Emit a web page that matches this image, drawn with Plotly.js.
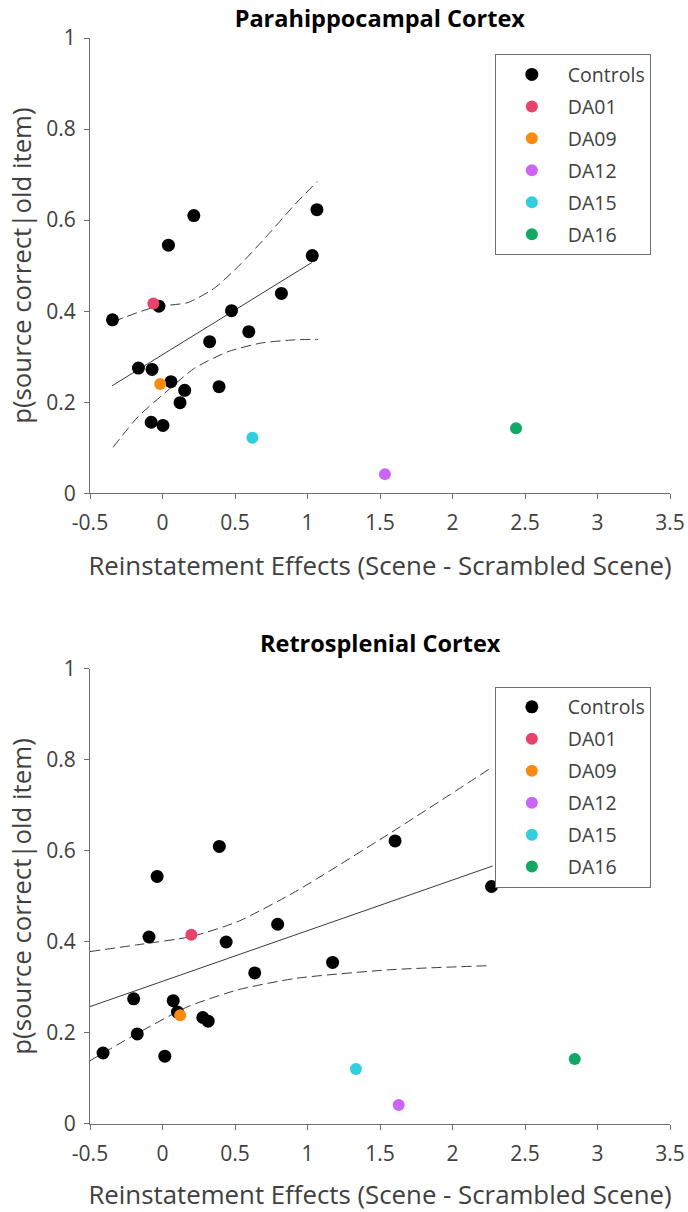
<!DOCTYPE html>
<html>
<head>
<meta charset="utf-8">
<script src="https://cdn.plot.ly/plotly-3.0.1.min.js"></script>
<style>html,body{margin:0;padding:0;background:#fff;}#chart{width:688px;height:1212px;}</style>
</head>
<body>
<div id="chart"></div>
<script>
// ---------- Data: Parahippocampal Cortex ----------
const phcControlsX = [-0.345, -0.025, 0.476, 0.325, 0.595, 0.820, 1.033, -0.166, -0.072, 0.058, 0.153, 0.121, 0.390, -0.078, 0.003, 0.041, 0.216, 1.065];
const phcControlsY = [0.381, 0.411, 0.401, 0.333, 0.355, 0.439, 0.522, 0.275, 0.272, 0.245, 0.226, 0.199, 0.234, 0.156, 0.149, 0.545, 0.610, 0.623];
const phcPatientsX = [-0.063, -0.016, 1.534, 0.620, 2.438];
const phcPatientsY = [0.417, 0.240, 0.042, 0.122, 0.143];
const phcFitX = [-0.348, 1.031];
const phcFitY = [0.236, 0.507];
const phcUpperX = [-0.341, -0.054, 0.176, 0.360, 0.544, 0.728, 0.912, 1.068];
const phcUpperY = [0.377, 0.409, 0.419, 0.451, 0.505, 0.568, 0.634, 0.685];
const phcLowerX = [-0.341, -0.169, 0.015, 0.222, 0.452, 0.681, 0.912, 1.072];
const phcLowerY = [0.101, 0.168, 0.220, 0.275, 0.311, 0.330, 0.337, 0.338];

// ---------- Data: Retrosplenial Cortex ----------
const rscControlsX = [0.392, -0.037, -0.093, 0.439, 0.794, 0.636, -0.199, 0.074, 0.103, 0.278, 0.315, -0.174, -0.410, 0.016, 1.604, 2.269, 1.173];
const rscControlsY = [0.610, 0.544, 0.411, 0.400, 0.439, 0.332, 0.275, 0.271, 0.246, 0.234, 0.226, 0.198, 0.156, 0.149, 0.622, 0.522, 0.355];
const rscPatientsX = [0.199, 0.122, 1.629, 1.334, 2.843];
const rscPatientsY = [0.416, 0.239, 0.042, 0.121, 0.143];
const rscFitX = [-0.5, 2.277];
const rscFitY = [0.258, 0.567];
const rscUpperX = [-0.5, -0.169, 0.199, 0.521, 0.918, 1.569, 2.254];
const rscUpperY = [0.379, 0.394, 0.412, 0.445, 0.511, 0.639, 0.780];
const rscLowerX = [-0.5, -0.169, 0.176, 0.521, 0.918, 1.569, 2.254];
const rscLowerY = [0.139, 0.200, 0.258, 0.295, 0.320, 0.339, 0.348];

// ---------- Labels ----------
const patientNames = ["DA01", "DA09", "DA12", "DA15", "DA16"];
const patientColors = ["#E8436A", "#FC8A10", "#CB64F7", "#32CDDF", "#10A862"];
const controlsName = "Controls";
const titles = ["Parahippocampal Cortex", "Retrosplenial Cortex"];
const xTitle = "Reinstatement Effects (Scene - Scrambled Scene)";
const yTitle = "p(source correct|old item)";
const xTicks = [-0.5, 0, 0.5, 1, 1.5, 2, 2.5, 3, 3.5];
const yTicks = [0, 0.2, 0.4, 0.6, 0.8, 1];

const FONT = "'Open Sans', Lato, sans-serif";
const lineColor = "#3a3a3a";
const dashStyle = "10px,5px";

function panelTraces(xa, ya, legendName, cX, cY, pX, pY, fX, fY, uX, uY, lX, lY) {
  const tr = [];
  tr.push({x: uX, y: uY, xaxis: xa, yaxis: ya, mode: "lines", line: {color: lineColor, width: 1, dash: dashStyle, shape: "spline", smoothing: 0.6}, showlegend: false, hoverinfo: "skip"});
  tr.push({x: lX, y: lY, xaxis: xa, yaxis: ya, mode: "lines", line: {color: lineColor, width: 1, dash: dashStyle, shape: "spline", smoothing: 0.6}, showlegend: false, hoverinfo: "skip"});
  tr.push({x: fX, y: fY, xaxis: xa, yaxis: ya, mode: "lines", line: {color: lineColor, width: 1}, showlegend: false, hoverinfo: "skip"});
  tr.push({x: cX, y: cY, xaxis: xa, yaxis: ya, mode: "markers", name: controlsName, legend: legendName, legendgroup: legendName + "c",
           marker: {color: "#000000", size: 13}});
  for (let i = 0; i < patientNames.length; i++) {
    tr.push({x: [pX[i]], y: [pY[i]], xaxis: xa, yaxis: ya, mode: "markers", name: patientNames[i], legend: legendName, legendgroup: legendName + patientNames[i],
             marker: {color: patientColors[i], size: 12}});
  }
  return tr;
}

const data = [].concat(
  panelTraces("x", "y", "legend", phcControlsX, phcControlsY, phcPatientsX, phcPatientsY, phcFitX, phcFitY, phcUpperX, phcUpperY, phcLowerX, phcLowerY),
  panelTraces("x2", "y2", "legend2", rscControlsX, rscControlsY, rscPatientsX, rscPatientsY, rscFitX, rscFitY, rscUpperX, rscUpperY, rscLowerX, rscLowerY)
);

function xAxis(anchor) {
  return {
    anchor: anchor, domain: [0, 1], range: [-0.5, 3.5], tickvals: xTicks, ticktext: xTicks.map(String),
    showgrid: false, zeroline: false, showline: true, linecolor: "#6f6f6f", linewidth: 1,
    ticks: "outside", ticklen: 5, tickcolor: "#6f6f6f", tickfont: {family: FONT, size: 21, color: "#404040"},
    ticklabelstandoff: 6,
    title: {text: xTitle, font: {family: FONT, size: 25.8, color: "#404040"}, standoff: 21}
  };
}
function yAxis(domain, anchor) {
  return {
    anchor: anchor, domain: domain, range: [0, 1], tickvals: yTicks, ticktext: yTicks.map(String),
    showgrid: false, zeroline: false, showline: true, linecolor: "#6f6f6f", linewidth: 1,
    ticks: "outside", ticklen: 5, tickcolor: "#6f6f6f", tickfont: {family: FONT, size: 21, color: "#404040"},
    ticklabelstandoff: 4,
    title: {text: yTitle, font: {family: FONT, size: 25.8, color: "#404040"}, standoff: 7}
  };
}

function legendObj(y) {
  return {
    x: 0.698, xanchor: "left", y: y, yanchor: "top",
    bgcolor: "#ffffff", bordercolor: "#6f6f6f", borderwidth: 1,
    font: {family: FONT, size: 19.5, color: "#404040"},
    itemwidth: 62, tracegroupgap: 3.6, traceorder: "grouped"
  };
}

const layout = {
  width: 688, height: 1212,
  margin: {l: 90, r: 18, t: 38, b: 88},
  paper_bgcolor: "#ffffff", plot_bgcolor: "#ffffff",
  showlegend: true,
  title: {text: "<b>" + titles[0] + "</b>", font: {family: FONT, size: 23.5, color: "#000000"}, x: 0.552, xanchor: "center", y: 0.9845, yanchor: "middle"},
  xaxis: xAxis("y"),
  yaxis: yAxis([0.5808, 1], "x"),
  xaxis2: xAxis("y2"),
  yaxis2: yAxis([0, 0.419], "x2"),
  legend: legendObj(0.985),
  legend2: legendObj(0.4027),
  annotations: [
    {text: "<b>" + titles[1] + "</b>", xref: "paper", yref: "paper", x: 0.5, y: 0.443, xanchor: "center", yanchor: "middle", showarrow: false,
     font: {family: FONT, size: 23.5, color: "#000000"}}
  ]
};

Plotly.newPlot("chart", data, layout, {displayModeBar: false, staticPlot: true});
</script>
</body>
</html>
